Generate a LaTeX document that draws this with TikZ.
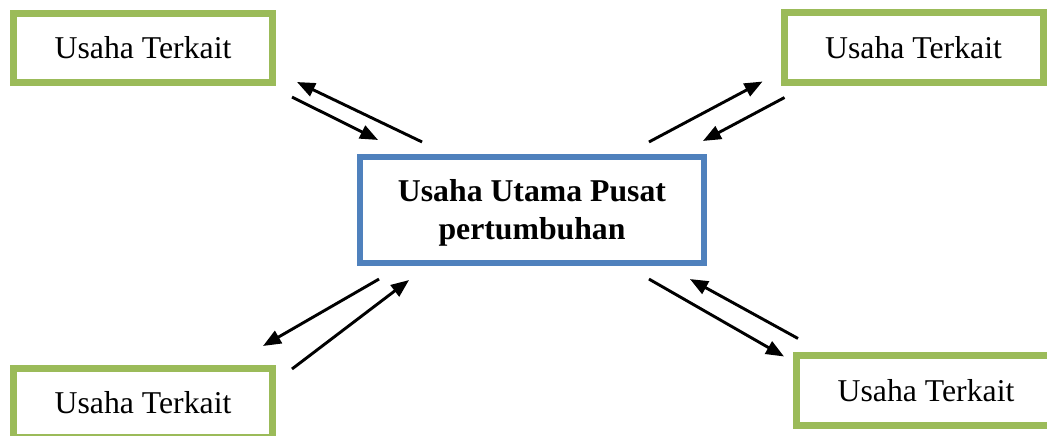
\documentclass[tikz,border=0pt]{standalone}
\usepackage{fontspec}
\setmainfont{Liberation Serif}
\usetikzlibrary{arrows.meta}
\definecolor{boxgreen}{RGB}{155,187,89}
\definecolor{boxblue}{RGB}{79,129,189}
\begin{document}
\begin{tikzpicture}[x=0.378pt, y=-0.378pt,
    side/.style={draw=boxgreen, line width=2.65pt, minimum width=97.9pt, minimum height=26.1pt, inner sep=0pt, outer sep=0pt, font=\fontsize{12}{14.4}\selectfont},
    main/.style={draw=boxblue, line width=2.27pt, minimum width=130pt, minimum height=40.1pt, inner sep=0pt, outer sep=0pt, align=center, font=\fontsize{12}{14.4}\selectfont\bfseries},
    arr/.style={-{Triangle[length=6.8pt, width=5.3pt]}, line width=1.1pt}]
    \useasboundingbox (0,0) rectangle (1047,435);
    % centre box
    \node[main] (centre) at (532,210) {\rule{0pt}{10.5pt}Usaha Utama Pusat\\pertumbuhan};
    % side boxes
    \node[side] (tl) at (143,48) {Usaha Terkait};
    \node[side] (tr) at (913.5,47.5) {Usaha Terkait};
    \node[side] (bl) at (143,403) {Usaha Terkait};
    \node[side] (br) at (926,390.5) {Usaha Terkait};
    % top left pair
    \draw[arr] ([shift={(62,-15)}]centre.north west) -- ([shift={(24.5,-0.5)}]tl.south east);
    \draw[arr] ([shift={(19.5,14.5)}]tl.south east) -- ([shift={(18,-17)}]centre.north west);
    % top right pair
    \draw[arr] ([shift={(-55,-15)}]centre.north east) -- ([shift={(-21.5,-0.5)}]tr.south west);
    \draw[arr] ([shift={(0.5,15.5)}]tr.south west) -- ([shift={(-1,-16)}]centre.north east);
    % bottom left pair
    \draw[arr] ([shift={(19,16)}]centre.south west) -- ([shift={(-9.5,-22.5)}]bl.north east);
    \draw[arr] ([shift={(19.5,0.5)}]bl.north east) -- ([shift={(49,17)}]centre.south west);
    % bottom right pair
    \draw[arr] ([shift={(-55,16)}]centre.south east) -- ([shift={(-12.5,0.5)}]br.north west);
    \draw[arr] ([shift={(1.5,-17.5)}]br.north west) -- ([shift={(-14,16)}]centre.south east);
\end{tikzpicture}
\end{document}
